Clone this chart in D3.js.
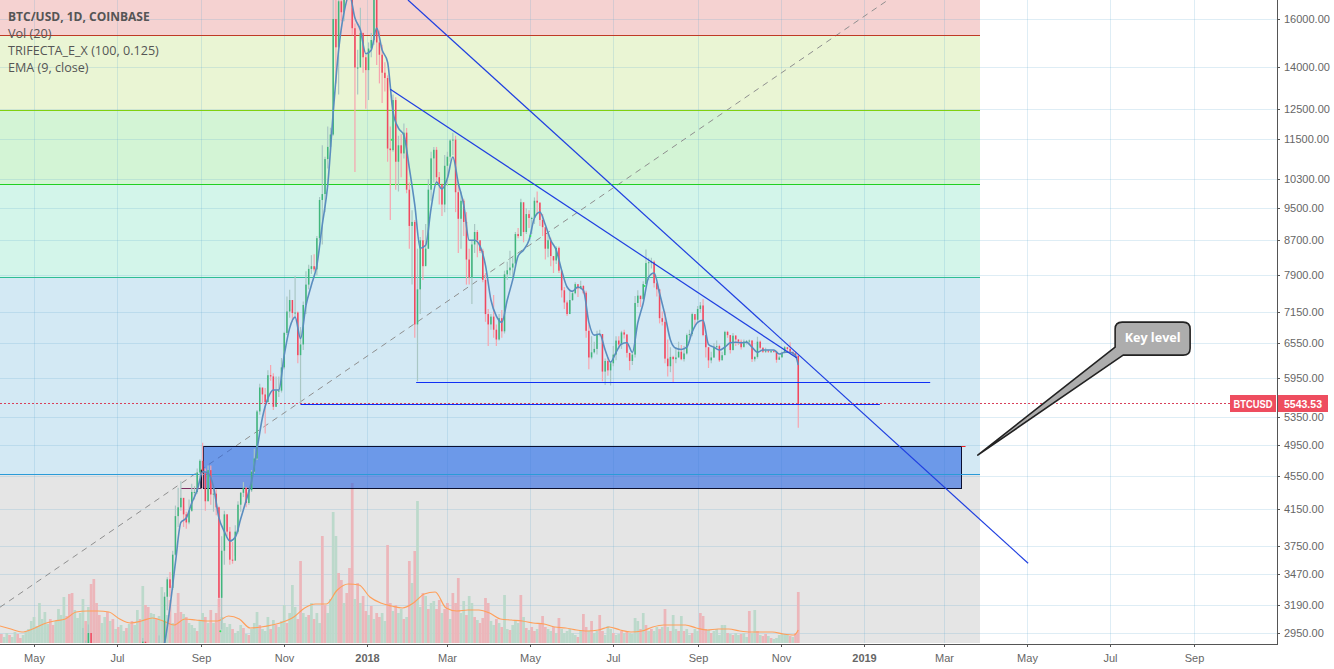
<!DOCTYPE html>
<html>
<head>
<meta charset="utf-8">
<script src="https://d3js.org/d3.v7.min.js"></script>
<style>
  html, body { margin: 0; padding: 0; background: #fff; overflow: hidden; }
  svg { display: block; }
  .axis text { font-family: "Liberation Sans", Arial, sans-serif; font-size: 11px; fill: #666; }
  .legend text { font-family: "Open Sans", sans-serif; font-size: 12.6px; fill: #555; }
</style>
</head>
<body>
<svg id="chart" width="1334" height="669"></svg>
<script>
// price axis and time axis labels
var priceTicks = [16000, 14000, 12500, 11500, 10300, 9500, 8700, 7900, 7150, 6550, 5950, 5350, 4950, 4550, 4150, 3750, 3470, 3190, 2950];
var timeTicks = ["2017-05-01", "2017-07-01", "2017-09-01", "2017-11-01", "2018-01-01", "2018-03-01", "2018-05-01", "2018-07-01", "2018-09-01", "2018-11-01", "2019-01-01", "2019-03-01", "2019-05-01", "2019-07-01", "2019-09-01"];
var timeLabels = ["May", "Jul", "Sep", "Nov", "2018", "Mar", "May", "Jul", "Sep", "Nov", "2019", "Mar", "May", "Jul", "Sep"];

var legendLines = ["BTC/USD, 1D, COINBASE", "Vol (20)", "TRIFECTA_E_X (100, 0.125)", "EMA (9, close)"];

// fib levels, top band first
var fibPrices = [17500, 15310, 12450, 10160, 7860, 4570, 2860];
var fibFills = ["#f5d2d1", "#eaf5d4", "#d3f4d5", "#d3f5ea", "#d3e9f4", "#e5e5e5"];
var fibStrokes = ["#bf3a25", "#80d010", "#20d020", "#2ebd95", "#2a9bd8"];
var fibEnd = "2019-03-28";

// candles, one every 2 days from 2017-06-02. open is the previous close
var candleStart = "2017-06-02";
var firstOpen = 2400;
var candleCloses = [
  2520, 2690, 2700, 2790, 2950, 2650, 2480, 2620, 2610, 2720, 2680, 2480, 2420, 2540, 2480, 2550, 2610, 2520, 2520, 2330, 2340, 2200, 2310, 2280, 2880, 2740, 2760, 2550, 2790, 2730,
  2870, 2790, 3260, 3420, 3340, 3660, 4070, 4170, 4280, 4090, 4000, 4130, 4350, 4350, 4590, 4740,
  4580, 4240, 4620, 4320, 4330, 4170, 3250, 3700, 4090, 3900, 3610, 3600, 3900, 4200, 4340,
  4400, 4220, 4370, 4600, 4770, 5430, 5800, 5690, 5570, 6000, 5980, 5500, 5750, 5750, 6130,
  6740, 7150, 7380, 7120, 7130, 6340, 6530, 7280, 7700, 8040, 8100, 8030, 8750, 9720, 9880,
  10880, 11250, 11640, 16000, 14800, 16800, 16300, 17600, 19650, 17700, 15600, 14000, 14000, 15400, 14400, 13900,
  14750, 15100, 17100, 15000, 14500, 13800, 13600, 11200, 11150, 12800, 10800, 11300, 11050, 11700, 10000,
  9050, 9150, 6900, 7600, 8700, 8100, 8500, 10000, 10900, 11160, 10350, 10160, 9600, 10680,
  10950, 11450, 11480, 9930, 9230, 9700, 9150, 8250, 7850, 8600, 8900, 8700, 8450, 7800, 7100, 6900,
  7050, 6800, 6620, 7020, 6770, 7920, 8010, 8070, 8160, 8850, 8800, 9660, 8900, 9350, 9250,
  9250, 9700, 9650, 9200, 9020, 8500, 8700, 8330, 8230, 8520, 8000, 7580, 7330, 7100, 7380,
  7520, 7710, 7620, 7670, 7530, 6780, 6300, 6390, 6450, 6720, 6720, 6060, 6240, 6080, 6200,
  6350, 6600, 6530, 6750, 6710, 6380, 6240, 6350, 7320, 7470, 7400, 7710, 8170, 8190, 8200, 7730,
  7600, 7020, 6950, 6280, 6150, 6310, 6270, 6300, 6400, 6270, 6370, 6700, 6720, 7100, 6990,
  7200, 7270, 6700, 6480, 6250, 6300, 6480, 6500, 6250, 6340, 6760, 6700, 6430, 6690, 6620,
  6580, 6480, 6580, 6590, 6600, 6270, 6310, 6580, 6470, 6400, 6420, 6410, 6410, 6400, 6260, 6300,
  6380, 6480, 6450, 6400, 6370, 6330, 5543.53
];
var candleHighs = [
  2540, 2700, 2990, 2890, 3020, 2800, 2650, 2680, 2680, 2770, 2780, 2700, 2550, 2600, 2600, 2620, 2650, 2640, 2600, 2500, 2430, 2350, 2340, 2400, 2910, 2880, 2820, 2780, 2810, 2830,
  2930, 2800, 3300, 3440, 3490, 3700, 4190, 4400, 4480, 4180, 4120, 4260, 4450, 4420, 4640, 4760,
  4980, 4640, 4680, 4680, 4420, 4380, 4180, 3850, 4130, 4090, 3950, 3790, 3970, 4240, 4350,
  4470, 4410, 4390, 4620, 4900, 5450, 5860, 5780, 5790, 6080, 6170, 6030, 5980, 5980, 6290,
  6760, 7450, 7590, 7200, 7880, 7150, 6850, 7350, 7990, 8130, 8350, 8370, 8800, 9800, 11300,
  10950, 11900, 11860, 17000, 17200, 17500, 17500, 17990, 19900, 19500, 17800, 15800, 14700, 16500, 15100, 14500,
  15000, 15400, 17200, 17200, 15500, 14900, 14200, 13700, 11900, 13000, 12900, 11600, 11650, 12000, 11850,
  10200, 9450, 9200, 8500, 8780, 8950, 9100, 10300, 11100, 11250, 11250, 10500, 10000, 11000,
  11100, 11500, 11700, 11600, 10200, 9950, 9750, 9400, 8500, 8700, 9100, 8950, 8600, 8500, 7950, 7200,
  7100, 7480, 6900, 7100, 7180, 8000, 8200, 8450, 8300, 8900, 9000, 9750, 9300, 9500, 9450,
  9280, 9790, 9950, 9650, 9350, 8950, 8890, 8760, 8300, 8560, 8550, 8000, 7650, 7370, 7580,
  7580, 7750, 7660, 7780, 7690, 7570, 6900, 6680, 6580, 6780, 6800, 6720, 6280, 6300, 6220,
  6500, 6680, 6680, 6780, 6800, 6720, 6370, 6380, 7460, 7580, 7450, 7770, 8480, 8290, 8290, 8230,
  7750, 7500, 7150, 7150, 6620, 6480, 6330, 6480, 6580, 6520, 6500, 6730, 6800, 7130, 7050,
  7260, 7340, 7400, 6700, 6480, 6400, 6550, 6600, 6530, 6400, 6780, 6780, 6700, 6740, 6700,
  6620, 6620, 6620, 6610, 6620, 6610, 6320, 6670, 6600, 6480, 6470, 6430, 6420, 6430, 6420, 6330,
  6400, 6500, 6480, 6570, 6400, 6390, 6340
];
var candleLows = [
  2380, 2500, 2650, 2680, 2780, 2600, 2300, 2440, 2560, 2590, 2650, 2450, 2300, 2420, 2440, 2480, 2520, 2500, 2470, 2300, 2280, 2150, 1900, 2250, 2270, 2700, 2700, 2450, 2520, 2670,
  2650, 2690, 2780, 3140, 3260, 3320, 3650, 3950, 4130, 3950, 3930, 3980, 4120, 4260, 4330, 4530,
  4400, 4130, 4240, 4200, 4120, 4080, 3170, 2980, 3560, 3850, 3560, 3570, 3650, 3880, 4120,
  4290, 4170, 4200, 4350, 4580, 4750, 5380, 5550, 5110, 5580, 5910, 5450, 5500, 5650, 5720,
  6100, 6700, 7030, 6950, 7030, 6200, 5540, 6430, 7100, 7600, 7930, 7980, 7900, 8700, 8600,
  9400, 10600, 11050, 11600, 13400, 13000, 15900, 15900, 17500, 17000, 15300, 10500, 13000, 14100, 13800, 12500,
  12800, 14400, 14900, 14100, 13400, 12700, 13100, 10800, 9200, 11100, 10000, 9950, 10350, 10900, 9900,
  8500, 7700, 6650, 5900, 7100, 7800, 8130, 8500, 9700, 10200, 10200, 9600, 9300, 9400,
  10100, 10800, 11000, 9400, 8400, 8500, 8800, 7700, 7700, 7300, 8400, 8300, 8400, 7750, 6950, 6500,
  6800, 6650, 6500, 6600, 6650, 6730, 7800, 7900, 7850, 8100, 8750, 8800, 8650, 8850, 9000,
  8850, 9100, 9350, 9050, 8800, 8250, 8300, 8100, 7950, 8150, 7950, 7430, 7200, 7060, 7150,
  7360, 7500, 7440, 7600, 7500, 6650, 6100, 6270, 6370, 6350, 6680, 5900, 5840, 5990, 5830,
  6150, 6250, 6450, 6450, 6640, 6300, 6080, 6170, 6300, 7240, 7240, 7380, 7700, 7800, 8050, 7640,
  7450, 6920, 6880, 6200, 5980, 6050, 5880, 6200, 6300, 6250, 6230, 6350, 6650, 6680, 6880,
  6950, 7120, 6680, 6300, 6120, 6200, 6290, 6440, 6220, 6290, 6380, 6650, 6370, 6420, 6500,
  6520, 6440, 6500, 6530, 6530, 6220, 6230, 6280, 6440, 6380, 6380, 6380, 6380, 6390, 6210, 6260,
  6310, 6370, 6380, 6370, 6340, 6300, 5190
];

// EMA 9, one every 4 days from 2017-08-01, then the last bar
var emaStart = "2017-08-01";
var emaValues = [
  2780, 2870, 3170, 3580, 4000, 4050, 4220, 4370, 4600, 4580, 4410, 4050, 3900, 3800, 3840, 4040, 4250, 4480, 4890, 5340,
  5630, 5760, 5760, 6340, 6830, 7040, 6640, 7270, 7690, 8120, 9080, 10130, 12350, 14690, 16300, 17100, 16040, 15520, 14540, 14690,
  15610, 14690, 14210, 12380, 11850, 11620, 10610, 9590, 8510, 8580, 9500, 10210, 10020, 10320, 10940, 10180, 9590, 8700, 8700, 8560,
  8120, 7380, 7060, 6940, 7380, 7800, 8330, 8470, 8700, 9250, 9400, 9080, 8700, 8470, 8010, 7650, 7560, 7650, 7580, 6940,
  6700, 6720, 6430, 6220, 6390, 6540, 6560, 6390, 6930, 7320, 7860, 7950, 7520, 7080, 6610, 6460, 6440, 6480, 6760, 6940,
  6980, 6530, 6480, 6430, 6480, 6560, 6570, 6560, 6570, 6480, 6390, 6430, 6430, 6430, 6360, 6390, 6390, 6330
];
var emaLast = 6170;

// volume in thousands, one bar every 2 days from 2017-04-05. r = down day, g = up day
var volumeStart = "2017-04-05";
var volumeValues = [
  7, 9, 6, 10, 8, 6, 11, 9, 5, 8, 12, 14, 22, 26, 17, 40, 24, 31, 19, 24,
  18, 22, 34, 28, 46, 27, 49, 50, 33, 25, 30, 44, 22, 36, 59, 64, 40, 28, 20, 26,
  31, 22, 24, 14, 16, 18, 12, 15, 19, 22, 18, 33, 24, 57, 38, 36, 30, 29, 25, 27,
  56, 22, 28, 43, 20, 30, 50, 31, 29, 26, 20, 18, 15, 12, 22, 30, 26, 20, 33, 20,
  30, 44, 26, 20, 16, 19, 14, 10, 12, 18, 15, 9, 8, 14, 20, 31, 18, 14, 12, 26,
  14, 23, 18, 16, 22, 38, 20, 30, 58, 36, 24, 82, 30, 26, 28, 40, 24, 30, 20, 107,
  38, 30, 44, 131, 107, 70, 63, 40, 50, 75, 160, 44, 60, 40, 47, 32, 28, 37, 24, 30,
  26, 30, 22, 98, 40, 32, 38, 30, 34, 24, 26, 82, 60, 92, 142, 36, 50, 47, 34, 40,
  42, 34, 43, 30, 34, 40, 24, 50, 40, 65, 30, 42, 28, 47, 40, 26, 23, 20, 25, 45,
  40, 22, 18, 24, 20, 16, 48, 14, 13, 18, 22, 20, 48, 26, 15, 13, 16, 12, 14, 20,
  27, 16, 14, 12, 16, 10, 25, 14, 10, 12, 14, 10, 8, 6, 12, 29, 16, 12, 22, 10,
  12, 28, 12, 8, 17, 14, 10, 8, 9, 12, 10, 12, 10, 9, 25, 22, 14, 30, 18, 12,
  14, 12, 16, 14, 16, 34, 16, 12, 28, 14, 12, 27, 12, 14, 8, 10, 14, 12, 30, 27,
  14, 13, 10, 12, 14, 8, 18, 18, 10, 9, 8, 10, 8, 9, 10, 6, 32, 10, 33, 12,
  8, 7, 9, 7, 5, 4, 5, 8, 9, 9, 8, 7, 6, 10, 51
];
var volumeSides =
  "grggrggrrggggggggggr" +
  "rggggrrrggggrgrrrrgg" +
  "rgrgrggrgrggrgrrggrg" +
  "grgrgrrrgrgggrggrgrg" +
  "rrggggrgggrgrgggrggg" +
  "rgrgggrgggrrggrgrggr" +
  "rgggg" + "rrgrrrgrgrrgrgr" +
  "rggrrgrggrgrgrggrgrg" +
  "grrgrrgrrrggrggrgrrr" +
  "rggrgrggrgggrgrgrrgr" +
  "rrggrgrggggggrgrrgrg" +
  "grrgggrggrgrggggrgrg" +
  "rggrgrgrggrgrggrggrr" +
  "rgrgggggrgrggrggrggr" +
  "grrgrggggggrgrr";

// volume moving average, one every 8 days from 2017-04-06, then the last bar
var volumeMaStart = "2017-04-06";
var volumeMaValues = [
  17, 14, 11, 14, 19, 22, 24, 31, 32, 32, 31, 24, 20, 22, 25, 22, 18, 24, 23, 22,
  22, 27, 24, 15, 16, 18, 21, 26, 35, 39, 39, 53, 59, 58, 46, 40, 37, 35, 40, 49,
  51, 35, 32, 33, 33, 30, 24, 23, 22, 20, 19, 16, 15, 13, 12, 13, 16, 13, 11, 12,
  16, 18, 18, 18, 15, 13, 14, 14, 12, 11, 11, 11, 9, 8
];
var volumeMaLast = 13;

// drawings on the chart
var lastDate = "2018-11-14";
var lastPrice = 5543.53;
var upperTrendDates = ["2018-01-31", "2019-05-02"];
var upperTrendPrices = [16860, 3575];
var lowerTrendDates = ["2018-01-18", "2018-11-13"];
var lowerTrendPrices = [13190, 6290];
var supportDates = ["2018-02-06", "2019-02-19"];
var supportPrices = [5886, 5886];
var keyLineDates = ["2017-11-13", "2019-01-13"];
var keyLinePrices = [5535, 5535];
var fibDiagonalDates = ["2017-04-06", "2019-01-19"];
var fibDiagonalPrices = [3167, 16860];
var zoneDates = ["2017-09-02", "2019-03-14"];
var zonePrices = [4935, 4395];
var zoneLeftDates = ["2017-09-01", "2017-09-01"];
var zoneLeftPrices = [4620, 4395];
var zoneBaseDates = ["2017-08-17", "2017-09-01"];
var zoneBasePrices = [4395, 4395];
var zoneTickDates = ["2019-03-14", "2019-03-17"];
var zoneTickPrices = [4935, 4935];
var signalDates = ["2017-09-15", "2018-01-19", "2018-05-01", "2018-07-24"];
var signalPrices = [2965, 11470, 8800, 7670];
var calloutText = "Key level";
var calloutTipDate = "2019-03-26";
var calloutTipPrice = 4815;
var calloutBoxDate = "2019-07-05";
var calloutBoxPrice = 6943;

var parse = d3.utcParse("%Y-%m-%d");
var plotRight = 1277, plotBottom = 644;

var x = d3.scaleUtc()
  .domain([parse("2017-05-01"), parse("2019-09-01")])
  .range([34, 1194]);
var y = d3.scaleLog()
  .domain([2950, 16000])
  .range([633, 19]);
var volumeY = d3.scaleLinear()
  .domain([0, 160])
  .range([643, 483]);

// keep the horizontal rules on whole pixels so they stay crisp
function crisp(v) { return Math.round(v) + 0.5; }

var svg = d3.select("#chart");
svg.append("defs").append("clipPath").attr("id", "plot")
  .append("rect").attr("x", 0).attr("y", 0).attr("width", plotRight).attr("height", plotBottom - 1);

var plot = svg.append("g").attr("clip-path", "url(#plot)");

// fib bands
var bandRight = Math.round(x(parse(fibEnd)));
plot.selectAll(".band").data(fibFills).enter().append("rect")
  .attr("class", "band")
  .attr("x", 0)
  .attr("y", function(d, i) { return Math.round(y(fibPrices[i])); })
  .attr("width", bandRight)
  .attr("height", function(d, i) { return Math.round(y(fibPrices[i + 1])) - Math.round(y(fibPrices[i])); })
  .style("fill", function(d) { return d; });

// grid, taken from the axes themselves
var gridStroke = "rgba(100,170,210,0.21)";
var hGrid = plot.append("g")
  .call(d3.axisRight(y).tickValues(priceTicks).tickSize(plotRight).tickFormat(""));
var vGrid = plot.append("g")
  .attr("transform", "translate(0," + plotBottom + ")")
  .call(d3.axisTop(x).tickValues(timeTicks.map(parse)).tickSize(plotBottom).tickFormat(""));
hGrid.select(".domain").remove();
vGrid.select(".domain").remove();
hGrid.selectAll(".tick").attr("transform", function(d) { return "translate(0," + crisp(y(d)) + ")"; });
vGrid.selectAll(".tick").attr("transform", function(d) { return "translate(" + crisp(x(d)) + ",0)"; });
plot.selectAll("g .tick line").style("stroke", gridStroke);

function drawLine(dates, prices, color, width, dash) {
  var level = prices[0] === prices[1];
  plot.append("line")
    .attr("x1", x(parse(dates[0]))).attr("y1", level ? crisp(y(prices[0])) : y(prices[0]))
    .attr("x2", x(parse(dates[1]))).attr("y2", level ? crisp(y(prices[1])) : y(prices[1]))
    .style("stroke", color)
    .style("stroke-width", width)
    .style("stroke-dasharray", dash || null);
}

drawLine(fibDiagonalDates, fibDiagonalPrices, "#8f8f8f", 1, "6,5");

// volume bars
var volumeBase = parse(volumeStart);
plot.selectAll(".vol").data(volumeValues).enter().append("rect")
  .attr("class", "vol")
  .attr("x", function(d, i) { return x(d3.utcDay.offset(volumeBase, i * 2)) - 1.36; })
  .attr("y", function(d) { return volumeY(d); })
  .attr("width", 2.72)
  .attr("height", function(d) { return volumeY(0) - volumeY(d); })
  .style("fill", function(d, i) { return volumeSides[i] === "r" ? "#ecb6ba" : "#bcd9cb"; });

// key zone, over the volume but under the candles
var zoneX0 = crisp(x(parse(zoneDates[0]))), zoneX1 = crisp(x(parse(zoneDates[1])));
plot.append("rect")
  .attr("x", zoneX0).attr("y", crisp(y(zonePrices[0])))
  .attr("width", zoneX1 - zoneX0)
  .attr("height", crisp(y(zonePrices[1])) - crisp(y(zonePrices[0])))
  .style("fill", "rgba(40,100,225,0.6)")
  .style("stroke", "#0b1030")
  .style("stroke-width", 1);
drawLine(zoneLeftDates, zoneLeftPrices, "#0b1030", 2);
drawLine(zoneBaseDates, zoneBasePrices, "#7b2d5e", 1);
drawLine(zoneTickDates, zoneTickPrices, "#f02020", 1);

// fib level lines
plot.selectAll(".fib").data(fibStrokes).enter().append("line")
  .attr("class", "fib")
  .attr("x1", 0).attr("x2", bandRight)
  .attr("y1", function(d, i) { return crisp(y(fibPrices[i + 1])); })
  .attr("y2", function(d, i) { return crisp(y(fibPrices[i + 1])); })
  .style("stroke", function(d) { return d; })
  .style("stroke-width", 1);

// volume average
var volumeMaBase = parse(volumeMaStart);
var volumeMaPoints = volumeMaValues.map(function(d, i) {
  return [d3.utcDay.offset(volumeMaBase, i * 8), d];
});
volumeMaPoints.push([parse(lastDate), volumeMaLast]);
plot.append("path")
  .datum(volumeMaPoints)
  .attr("d", d3.line()
    .x(function(d) { return x(d[0]); })
    .y(function(d) { return volumeY(d[1]); })
    .curve(d3.curveMonotoneX))
  .style("fill", "none")
  .style("stroke", "#ff9f5a")
  .style("stroke-width", 1.2);

// candles
var candleBase = parse(candleStart);
var candles = candleCloses.map(function(close, i) {
  return {
    date: d3.utcDay.offset(candleBase, i * 2),
    open: i === 0 ? firstOpen : candleCloses[i - 1],
    high: candleHighs[i],
    low: candleLows[i],
    close: close
  };
});
plot.selectAll(".wick").data(candles).enter().append("line")
  .attr("class", "wick")
  .attr("x1", function(d) { return x(d.date); })
  .attr("x2", function(d) { return x(d.date); })
  .attr("y1", function(d) { return y(d.high); })
  .attr("y2", function(d) { return y(d.low); })
  .style("stroke", function(d) { return d.close >= d.open ? "#a9c7c4" : "#f7a4ae"; })
  .style("stroke-width", 1.2);
plot.selectAll(".body").data(candles).enter().append("rect")
  .attr("class", "body")
  .attr("x", function(d) { return x(d.date) - 0.75; })
  .attr("y", function(d) { return y(Math.max(d.open, d.close)); })
  .attr("width", 1.5)
  .attr("height", function(d) { return Math.max(1, Math.abs(y(d.open) - y(d.close))); })
  .style("fill", function(d) { return d.close >= d.open ? "#3fb67c" : "#f0485f"; });

// ema
var emaBase = parse(emaStart);
var emaPoints = emaValues.map(function(d, i) {
  return [d3.utcDay.offset(emaBase, i * 4), d];
});
emaPoints.push([parse(lastDate), emaLast]);
plot.append("path")
  .datum(emaPoints)
  .attr("d", d3.line()
    .x(function(d) { return x(d[0]); })
    .y(function(d) { return y(d[1]); })
    .curve(d3.curveMonotoneX))
  .style("fill", "none")
  .style("stroke", "#5a8dbf")
  .style("stroke-width", 1.6);

// small signal dots
plot.selectAll(".signal").data(signalDates).enter().append("circle")
  .attr("class", "signal")
  .attr("cx", function(d) { return x(parse(d)); })
  .attr("cy", function(d, i) { return y(signalPrices[i]); })
  .attr("r", 1)
  .style("fill", "#2ee85a");

// trend lines
drawLine(upperTrendDates, upperTrendPrices, "#1f3fe0", 1.2);
drawLine(lowerTrendDates, lowerTrendPrices, "#1f3fe0", 1.2);
drawLine(supportDates, supportPrices, "#1030f5", 1.2);
drawLine(keyLineDates, keyLinePrices, "#1030f5", 1.2);

// last price dotted line
var lastY = y(lastPrice);
svg.append("line")
  .attr("x1", 0).attr("x2", 1230)
  .attr("y1", Math.floor(lastY) + 0.5).attr("y2", Math.floor(lastY) + 0.5)
  .style("stroke", "#d8405a")
  .style("stroke-width", 1)
  .style("stroke-dasharray", "2,2");

// callout
var tipX = x(parse(calloutTipDate)), tipY = y(calloutTipPrice);
var boxX = x(parse(calloutBoxDate)), boxY = y(calloutBoxPrice);
var boxW = 75, boxH = 33, r = 7;
var callout = d3.path();
callout.moveTo(boxX + r, boxY);
callout.lineTo(boxX + boxW - r, boxY);
callout.quadraticCurveTo(boxX + boxW, boxY, boxX + boxW, boxY + r);
callout.lineTo(boxX + boxW, boxY + boxH - r);
callout.quadraticCurveTo(boxX + boxW, boxY + boxH, boxX + boxW - r, boxY + boxH);
callout.lineTo(boxX + 8, boxY + boxH);
callout.lineTo(tipX, tipY);
callout.lineTo(boxX, boxY + boxH - 8);
callout.lineTo(boxX, boxY + r);
callout.quadraticCurveTo(boxX, boxY, boxX + r, boxY);
callout.closePath();
svg.append("path")
  .attr("d", callout.toString())
  .style("fill", "#adadad")
  .style("stroke", "#222")
  .style("stroke-width", 1.6)
  .style("stroke-linejoin", "round");
svg.append("text")
  .attr("x", boxX + boxW / 2).attr("y", boxY + 20)
  .attr("text-anchor", "middle")
  .style("font-family", "'Open Sans', sans-serif")
  .style("font-size", "12.6px")
  .style("font-weight", "700")
  .style("fill", "#fff")
  .text(calloutText);

// axes
var rightAxis = svg.append("g")
  .attr("class", "axis")
  .attr("transform", "translate(" + plotRight + ",0)")
  .call(d3.axisRight(y).tickValues(priceTicks).tickSize(3).tickPadding(4).tickFormat(d3.format(".2f")));
rightAxis.selectAll(".tick").attr("transform", function(d) { return "translate(0," + crisp(y(d)) + ")"; });
rightAxis.select(".domain").attr("d", "M0.5,0V" + (plotBottom + 0.5)).style("stroke", "#555");
rightAxis.selectAll(".tick line").style("stroke", "#555");

var bottomAxis = svg.append("g")
  .attr("class", "axis")
  .attr("transform", "translate(0," + plotBottom + ")")
  .call(d3.axisBottom(x).tickValues(timeTicks.map(parse)).tickSize(3).tickPadding(7)
    .tickFormat(function(d, i) { return timeLabels[i]; }));
bottomAxis.selectAll(".tick").attr("transform", function(d) { return "translate(" + crisp(x(d)) + ",0)"; });
bottomAxis.select(".domain").attr("d", "M0,0.5H" + (plotRight + 1)).style("stroke", "#555");
bottomAxis.selectAll(".tick line").style("stroke", "#555");
bottomAxis.selectAll(".tick text")
  .style("font-weight", function(d, i) { return timeLabels[i].length === 4 ? "700" : "400"; });

// price tags
var tagFill = "#ee4d5f";
var tagTop = Math.floor(lastY) - 8;
svg.append("rect").attr("x", 1230).attr("y", tagTop).attr("width", 46).attr("height", 17).style("fill", tagFill);
svg.append("rect").attr("x", 1278).attr("y", tagTop).attr("width", 50).attr("height", 17).style("fill", tagFill);
svg.append("text").attr("x", 1253).attr("y", tagTop + 12.5).attr("text-anchor", "middle")
  .attr("textLength", 39).attr("lengthAdjust", "spacingAndGlyphs")
  .style("font-family", "'Liberation Sans', Arial, sans-serif").style("font-size", "11px").style("font-weight", "700").style("fill", "#fff")
  .text("BTCUSD");
svg.append("text").attr("x", 1303).attr("y", tagTop + 12.5).attr("text-anchor", "middle")
  .style("font-family", "'Liberation Sans', Arial, sans-serif").style("font-size", "10.5px").style("font-weight", "700").style("fill", "#fff")
  .text(d3.format(".2f")(lastPrice));

// legend
var legend = svg.append("g").attr("class", "legend");
legend.selectAll("text").data(legendLines).enter().append("text")
  .attr("x", 8)
  .attr("y", function(d, i) { return 21 + i * 17; })
  .style("font-weight", function(d, i) { return i === 0 ? "700" : "400"; })
  .style("font-size", function(d, i) { return i === 0 ? "12px" : null; })
  .text(function(d) { return d; });
</script>
</body>
</html>
